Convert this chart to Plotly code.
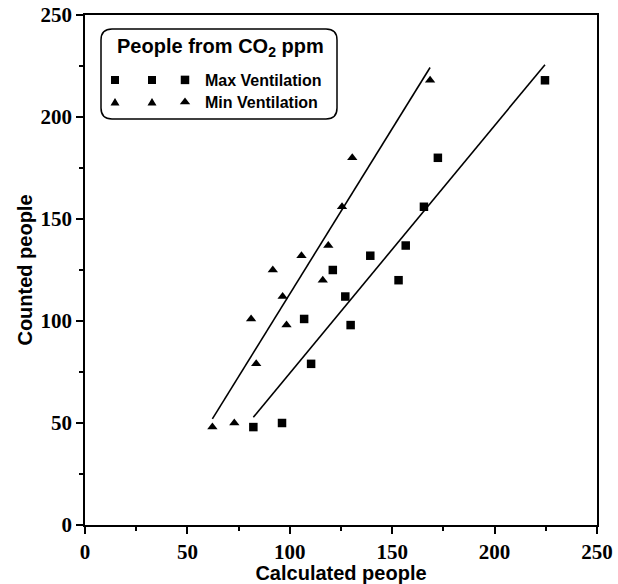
import numpy as np
import plotly.graph_objects as go

# ---- data ----
counted = [48, 50, 79, 101, 98, 112, 125, 132, 120, 137, 156, 180, 218]
calc_max = [82.2, 96.2, 110.4, 107.0, 129.7, 127.1, 121.0, 139.3, 153.1, 156.6, 165.5, 172.3, 224.6]
calc_min = [62.2, 72.9, 83.6, 81.1, 98.4, 96.5, 91.7, 105.7, 116.1, 118.8, 125.5, 130.5, 168.5]
series_names = ["Max Ventilation", "Min Ventilation"]
legend_title = "<b>People from CO<sub>2</sub> ppm</b>"
x_title = "Calculated people"
y_title = "Counted people"
tick_vals = [0, 50, 100, 150, 200, 250]

W, H = 618, 584
L, R, T, B = 85, 21, 15, 59
PW, PH = W - L - R, H - T - B

def px_to_paper(px, py):
    """page pixel -> paper coordinates"""
    return (px - L) / PW, (H - B - py) / PH

fig = go.Figure()

def add_series(xs, name, symbol, size, legend_id):
    xs = np.array(xs, dtype=float)
    ys = np.array(counted, dtype=float)
    fig.add_trace(go.Scatter(x=xs, y=ys, mode="markers", name=name, legend=legend_id,
                             marker=dict(symbol=symbol, size=size, color="black",
                                         line=dict(width=0))))
    k, b = np.polyfit(xs, ys, 1)
    xl = np.array([xs.min(), xs.max()])
    fig.add_trace(go.Scatter(x=xl, y=k * xl + b, mode="lines", showlegend=False,
                             line=dict(color="black", width=1.6), hoverinfo="skip"))

add_series(calc_max, series_names[0], "square", 8.5, "legend")
add_series(calc_min, series_names[1], "triangle-up", 9, "legend2")

axis_common = dict(
    range=[0, 250], tickvals=tick_vals, ticks="outside", ticklen=7, tickwidth=1.5,
    tickcolor="black", showline=True, linecolor="black", linewidth=1.5, mirror=True,
    showgrid=False, zeroline=False, automargin=False,
    tickfont=dict(family="Liberation Serif", size=21, color="black", weight="bold"),
    minor=dict(dtick=25, ticks="outside", ticklen=4, tickwidth=1.5, tickcolor="black", showgrid=False),
)

fig.update_xaxes(**axis_common,
                 title=dict(text=x_title, standoff=0,
                            font=dict(family="Liberation Sans", size=20, color="black", weight="bold")))
fig.update_yaxes(**axis_common,
                 title=dict(text=y_title, standoff=3,
                            font=dict(family="Liberation Sans", size=20, color="black", weight="bold")))

# rounded legend frame
bx, by = px_to_paper(101, 29)
shapes = [dict(type="path", xref="paper", yref="paper", xsizemode="pixel", ysizemode="pixel",
               xanchor=bx, yanchor=by,
               path="M 11,0 H 225 Q 236,0 236,-11 V -79 Q 236,-90 225,-90 H 11 Q 0,-90 0,-79 V -11 Q 0,0 11,0 Z",
               line=dict(color="black", width=1.5), fillcolor="rgba(0,0,0,0)", layer="above")]
# extra legend symbols (the reference shows three symbols per entry)
for cx in (115, 152):
    ax_, ay_ = px_to_paper(cx, 80)
    shapes.append(dict(type="path", xref="paper", yref="paper", xsizemode="pixel", ysizemode="pixel",
                       xanchor=ax_, yanchor=ay_, path="M -4,-4 H 4 V 4 H -4 Z",
                       fillcolor="black", line=dict(width=0)))
    ax_, ay_ = px_to_paper(cx, 102)
    shapes.append(dict(type="path", xref="paper", yref="paper", xsizemode="pixel", ysizemode="pixel",
                       xanchor=ax_, yanchor=ay_, path="M -4.5,-3.5 H 4.5 L 0,4 Z",
                       fillcolor="black", line=dict(width=0)))

# legend title as a text annotation
tx, ty = px_to_paper(115, 48)
annotations = [dict(text=legend_title, xref="paper", yref="paper", x=tx, y=ty,
                    xanchor="left", yanchor="middle", showarrow=False,
                    font=dict(family="Liberation Sans", size=20, color="black"))]

item_font = dict(family="Liberation Sans", size=16, color="black", weight="bold")
lx, ly = px_to_paper(116, 63)
lx2, ly2 = px_to_paper(116, 85)
fig.update_layout(
    width=W, height=H, margin=dict(l=L, r=R, t=T, b=B, autoexpand=False),
    paper_bgcolor="white", plot_bgcolor="white",
    shapes=shapes, annotations=annotations,
    legend=dict(x=lx, y=ly, xanchor="left", yanchor="top", bgcolor="rgba(0,0,0,0)",
                borderwidth=0, indentation=49, font=item_font),
    legend2=dict(x=lx2, y=ly2, xanchor="left", yanchor="top", bgcolor="rgba(0,0,0,0)",
                 borderwidth=0, indentation=49, font=item_font),
)

fig.write_html("out.html", config={"displayModeBar": False},
               post_script="document.body.style.margin='0';document.body.style.overflow='hidden';")
